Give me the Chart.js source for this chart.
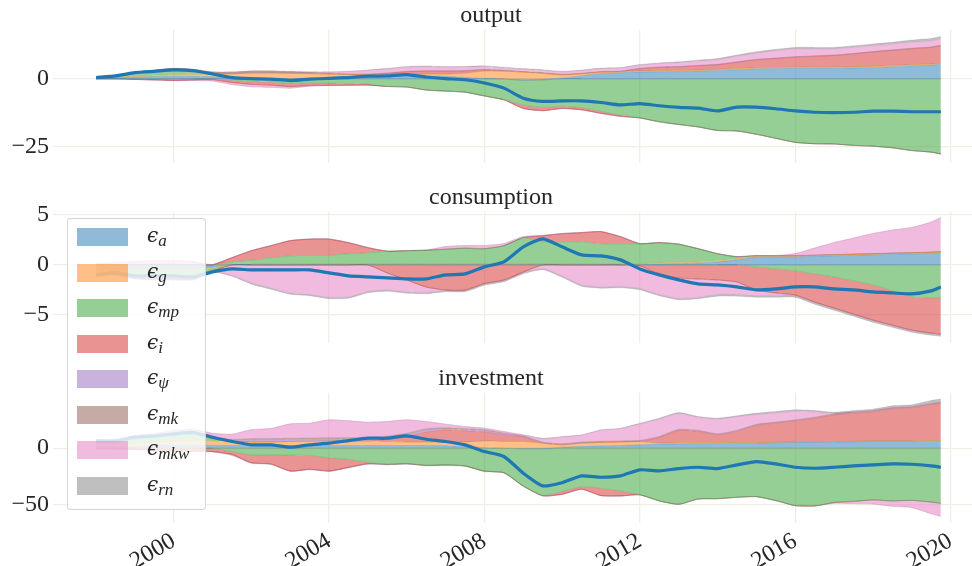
<!DOCTYPE html>
<html>
<head>
<meta charset="utf-8">
<script src="https://cdn.jsdelivr.net/npm/chart.js@4.4.1/dist/chart.umd.min.js"></script>
<style>
  html, body { margin: 0; padding: 0; background: #fff; overflow: hidden; width: 972px; height: 566px; }
  .panel { position: absolute; left: 0; width: 1035px; }
  .panel canvas { display: block; }
  #legend { position: absolute; left: 67px; top: 218px; width: 137px; height: 290px; background: rgba(255,255,255,0.8);
            border: 1px solid rgba(204,204,204,0.8); border-radius: 4px; z-index: 5; }
  .sw { position: absolute; width: 51px; height: 18px; z-index: 6; }
  .lab { position: absolute; z-index: 6; font-family: "DejaVu Serif", serif; font-style: italic; font-size: 20px;
         line-height: 18px; white-space: nowrap; color: #262626; }
  .lab sub { font-family: "Liberation Serif", serif; font-style: italic; font-size: 17px; vertical-align: -4px; line-height: 0; }
</style>
</head>
<body>
<div class="panel" style="top:-1px"><canvas id="c0" width="1035" height="168"></canvas></div>
<div class="panel" style="top:181px"><canvas id="c1" width="1035" height="166"></canvas></div>
<div class="panel" style="top:362px"><canvas id="c2" width="1035" height="204"></canvas></div>
<div id="legend"></div>

<script>
// half-yearly points, 1998 to end of 2019
const dates = [1998, 1998.5, 1999, 1999.5, 2000, 2000.5, 2001, 2001.5, 2002, 2002.5,
  2003, 2003.5, 2004, 2004.5, 2005, 2005.5, 2006, 2006.5, 2007, 2007.5,
  2008, 2008.5, 2009, 2009.5, 2010, 2010.5, 2011, 2011.5, 2012, 2012.5,
  2013, 2013.5, 2014, 2014.5, 2015, 2015.5, 2016, 2016.5, 2017, 2017.5,
  2018, 2018.5, 2019, 2019.5, 2019.75];
const yearTicks = [2000, 2004, 2008, 2012, 2016, 2020];
const shockLabels = ['a', 'g', 'mp', 'i', 'ψ', 'mk', 'mkw', 'rn'];
const shockColors = ['31,119,180', '255,127,14', '44,160,44', '214,39,40', '148,103,189', '140,86,75', '227,119,194', '127,127,127'];

// output
const outputTotal = [0.5, 1.1, 2.3, 2.8, 3.3, 3.0, 1.8, 0.5, 0.1, -0.1, -0.6, -0.1, 0.2, 0.5, 1.0, 1.1, 1.6, 0.7, 0.1, -0.3,
  -1.5, -3.4, -7.1, -8.3, -8.1, -8.1, -8.7, -9.6, -9.1, -9.9, -10.5, -10.8, -11.8, -10.4, -10.4, -11.0, -11.8, -12.3, -12.4, -12.3,
  -11.9, -11.9, -12.1, -12.1, -12.1];
const outputA = [0.2, 0.4, 0.7, 0.9, 1.0, 1.0, 0.8, 0.4, 0.2, 0.1, 0.1, 0.2, 0.4, 0.6, 0.8, 1.0, 1.2, 1.2, 1.0, 0.6,
  0.2, 0.0, -0.6, -0.4, 0.3, 1.2, 2.0, 2.3, 2.5, 2.6, 2.7, 2.9, 3.1, 3.4, 3.7, 3.8, 3.9, 3.9, 3.9, 4.0, 4.2, 4.5, 4.8, 5.1, 5.4];
const outputG = [0.1, 0.2, 0.3, 0.4, 0.5, 0.6, 0.9, 1.5, 2.0, 2.1, 2.0, 1.8, 1.4, 1.0, 0.8, 0.7, 0.6, 0.6, 0.8, 1.5,
  2.7, 2.8, 2.5, 2.1, 1.2, 0.7, 0.5, 0.4, 0.4, 0.4, 0.4, 0.4, 0.4, 0.4, 0.4, 0.4, 0.4, 0.4, 0.4, 0.4, 0.4, 0.4, 0.4, 0.4, 0.4];
const outputMp = [0.05, 0.35, 1.35, 1.75, 2.25, 1.7, 0.5, -0.5, -1.0, -1.1, -1.6, -1.4, -1.5, -1.65, -1.9, -2.8, -3.0, -4.1, -4.5, -4.9,
  -6.3, -7.7, -9.0, -10.1, -10.1, -10.6, -12.0, -13.3, -14.4, -15.8, -16.8, -17.7, -19.0, -19.2, -20.4, -21.9, -23.4, -23.9, -24.0, -24.5,
  -24.8, -25.4, -26.4, -27.0, -27.7];
const outputI = [0, 0, -0.2, -0.4, -0.6, -0.4, -0.3, -0.8, -1.0, -1.2, -1.2, -1.0, -0.9, -0.7, -0.4, 0.3, 0.8, 1.0, 1.0, 0.8,
  0.4, 0.2, -1.3, -1.2, -0.8, -0.8, -0.7, -0.5, 0.8, 1.2, 1.3, 1.5, 1.7, 2.3, 2.9, 3.3, 3.7, 4.0, 4.3, 4.8, 5.3, 5.6, 5.9, 6.1, 6.4];
const outputPsi = [0.05, 0.05, 0.05, 0.05, 0.05, 0.1, 0.1, 0.1, 0.1, 0.1, 0.1, 0.1, 0.1, 0.1, 0.1, 0.1, 0.1, 0.1, 0.1, 0.1,
  0.1, 0.1, 0.1, 0.1, 0.1, 0.1, 0.1, 0.1, 0.1, 0.1, 0.1, 0.1, 0.1, 0.1, 0.1, 0.1, 0.1, 0.1, 0.1, 0.1, 0.1, 0.1, 0.1, 0.1, 0.1];
const outputMk = [0.05, 0.05, 0.05, 0.05, 0.05, 0.1, 0.2, 0.4, 0.5, 0.5, 0.4, 0.3, 0.2, 0.15, 0.1, 0.1, 0.1, 0.1, 0.1, 0.1,
  0.1, 0.1, 0.1, 0.1, 0.1, 0.1, 0.1, 0.1, 0.1, 0.1, 0.1, 0.1, 0.1, 0.1, 0.1, 0.1, 0.1, 0.1, 0.1, 0.1, 0.1, 0.1, 0.1, 0.1, 0.1];
const outputMkw = [0, 0, 0, 0, 0, -0.2, -0.5, -0.8, -0.9, -0.8, -0.6, -0.3, 0.3, 0.8, 1.2, 1.4, 1.5, 1.5, 1.3, 1.2,
  1.0, 0.8, 0.8, 0.8, 0.8, 0.9, 1.0, 1.0, 1.1, 1.2, 1.3, 1.5, 1.6, 2.0, 2.2, 2.6, 2.8, 2.5, 2.2, 2.2, 2.1, 2.1, 2.2, 2.2, 2.2];
const outputRn = [0.05, 0.05, 0.05, 0.05, 0.05, 0.1, 0.1, 0.2, 0.2, 0.2, 0.2, 0.2, 0.2, 0.2, 0.3, 0.3, 0.3, 0.3, 0.3, 0.3,
  0.3, 0.3, 0.3, 0.3, 0.3, 0.3, 0.3, 0.3, 0.3, 0.3, 0.4, 0.4, 0.5, 0.5, 0.6, 0.6, 0.6, 0.6, 0.6, 0.6, 0.7, 0.7, 0.8, 0.9, 1.0];

// consumption
const consTotal = [-1.0, -0.8, -1.1, -1.1, -1.1, -1.2, -0.7, -0.4, -0.5, -0.5, -0.5, -0.5, -0.8, -1.1, -1.2, -1.3, -1.4, -1.4, -1.0, -0.9,
  -0.2, 0.3, 1.8, 2.6, 1.8, 1.0, 0.9, 0.5, -0.4, -1.0, -1.5, -1.9, -2.0, -2.2, -2.5, -2.4, -2.2, -2.2, -2.4, -2.5,
  -2.7, -2.8, -2.9, -2.6, -2.2];
const consA = [-0.4, -0.4, -0.4, -0.4, -0.4, -0.4, -0.2, 0.05, 0.05, 0.05, 0.05, 0.05, 0.05, 0.05, 0.05, 0.05, 0.05, 0.05, 0.05, 0.05,
  0.05, 0.05, 0.05, 0.05, 0.05, 0.05, 0.05, 0.05, 0.05, 0.1, 0.15, 0.2, 0.3, 0.5, 0.8, 0.8, 0.8, 0.85, 0.9, 0.95, 1.0, 1.05, 1.1, 1.15, 1.2];
const consG = [-0.1, -0.1, -0.1, -0.1, -0.1, -0.1, -0.1, 0.05, 0.05, 0.05, 0.05, 0.05, 0.05, 0.05, 0.05, 0.05, 0.05, 0.05, 0.05, 0.05,
  0.05, 0.05, 0.05, 0.05, 0.05, 0.05, 0.05, 0.05, 0.05, 0.1, 0.1, 0.1, 0.1, 0.1, 0.1, 0.1, 0.1, 0.1, 0.1, 0.1, 0.1, 0.1, 0.1, 0.1, 0.1];
const consMp = [-0.5, -0.4, -0.5, -0.6, -0.6, -0.5, -0.2, 0.2, 0.35, 0.6, 0.8, 0.85, 0.85, 1.0, 1.1, 1.25, 1.3, 1.35, 1.45, 1.55,
  1.5, 1.8, 2.6, 2.2, 2.2, 2.2, 2.0, 2.0, 2.0, 2.0, 1.8, 1.3, 0.7, 0.2, -0.2, -0.4, -0.6, -0.9, -1.2, -1.6, -2.0, -2.6, -3.2, -3.3, -3.3];
const consI = [0, 0, -0.3, -0.3, -0.3, -0.4, -0.1, 0.4, 0.95, 1.2, 1.5, 1.6, 1.6, 1.1, 0.5, -0.8, -1.5, -2.2, -2.5, -2.5,
  -1.85, -1.5, -0.7, 0.6, 0.8, 0.9, 1.2, 0.7, -0.1, -0.9, -1.3, -1.4, -1.5, -1.7, -2.3, -2.4, -2.4, -2.8, -3.1, -3.3, -3.5, -3.4, -3.3, -3.5, -3.6];
const consPsi = [0.03, 0.03, 0.03, 0.03, 0.03, 0.03, 0.03, 0.03, 0.03, 0.03, 0.03, 0.03, 0.03, 0.03, 0.03, 0.03, 0.03, 0.03, 0.03, 0.03,
  0.03, 0.03, 0.03, 0.03, 0.03, 0.03, 0.03, 0.03, 0.03, 0.03, 0.03, 0.03, 0.03, 0.03, 0.03, 0.03, 0.03, 0.03, 0.03, 0.03, 0.03, 0.03, 0.03, 0.03, 0.03];
const consMk = [-0.03, -0.03, -0.03, -0.03, -0.03, -0.03, -0.03, -0.03, -0.03, -0.03, -0.03, -0.03, -0.03, -0.03, -0.03, -0.03, -0.03, -0.03, -0.03, -0.03,
  -0.03, -0.03, -0.03, -0.03, -0.03, -0.03, -0.03, -0.03, -0.03, -0.03, -0.03, -0.03, -0.03, -0.03, -0.03, -0.03, -0.03, -0.03, -0.03, -0.03, -0.03, -0.03, -0.03, -0.03, -0.03];
const consMkw = [0.1, 0.2, 0.3, 0.4, 0.4, 0.3, 0.0, -1.0, -1.75, -2.25, -2.75, -2.9, -3.2, -3.15, -2.6, -1.65, -1.15, -0.5, 0.25, 0.25,
  0.3, 0.2, 0.1, -0.3, -1.05, -1.95, -2.15, -2.1, -2.2, -2.0, -2.0, -1.8, -1.4, -1.2, -0.5, -0.2, 0.2, 0.7, 1.2, 1.6, 2.0, 2.3, 2.5, 3.0, 3.4];
const consRn = [-0.1, -0.1, -0.1, -0.1, -0.1, -0.1, -0.1, -0.1, -0.15, -0.15, -0.15, -0.15, -0.15, -0.15, -0.15, -0.15, -0.15, -0.15, -0.15, -0.15,
  -0.15, -0.15, -0.15, -0.15, -0.15, -0.15, -0.15, -0.15, -0.15, -0.15, -0.15, -0.15, -0.2, -0.2, -0.2, -0.2, -0.2, -0.2, -0.2, -0.2, -0.2, -0.2, -0.2, -0.2, -0.2];

// investment
const invTotal = [6.5, 6.5, 9.8, 11.0, 12.8, 14.0, 9.8, 6.0, 3.0, 3.0, 0.9, 3.0, 4.5, 6.8, 8.9, 8.9, 11.0, 8.0, 6.0, 3.0,
  -3.0, -7.4, -22.3, -33.6, -30.7, -24.7, -25.9, -24.7, -19.3, -20.2, -18.2, -17.0, -18.2, -14.9, -11.9, -14.0, -17.0, -17.9, -17.0, -15.8,
  -14.9, -14.0, -14.3, -15.8, -17.0];
const invA = [1.0, 1.2, 1.8, 2.5, 3.0, 3.0, 2.5, 2.5, 2.5, 2.4, 2.4, 2.4, 2.4, 2.4, 2.4, 2.4, 2.4, 2.4, 2.2, 1.5,
  0.5, 0.0, -0.5, -0.5, 0.9, 1.5, 2.1, 2.5, 3.0, 3.5, 3.9, 4.2, 4.5, 4.5, 4.5, 4.8, 5.1, 5.2, 5.4, 5.7, 6.0, 6.0, 6.0, 6.3, 6.5];
const invG = [1.5, 1.5, 2.0, 2.5, 3.0, 3.5, 4.0, 3.5, 3.0, 3.2, 3.6, 3.8, 4.0, 4.0, 4.0, 3.5, 3.0, 3.0, 3.5, 4.0,
  6.0, 6.0, 6.0, 4.5, 2.1, 3.0, 3.0, 3.0, 3.0, 1.0, 1.0, 0.8, 0.7, 0.5, 0.5, 0.5, 0.5, 0.5, 0.5, 0.5, 0.5, 0.5, 0.5, 0.5, 0.5];
const invMp = [2.5, 3.0, 4.5, 5.0, 5.9, 6.0, 2.0, -3.0, -6.0, -6.0, -6.0, -6.5, -8.5, -10.0, -12.5, -14.4, -13.8, -15.3, -14.9, -15.8,
  -20.4, -21.8, -33.2, -41.5, -38.7, -34.2, -35.7, -38.0, -41.6, -47.0, -50.0, -45.3, -45.0, -43.8, -43.2, -46.7, -51.2, -51.5, -48.4, -47.4,
  -46.1, -47.0, -46.5, -48.0, -49.1];
const invI = [0, -0.5, -1.0, -1.5, -2.5, -2.5, -3.0, -2.5, -7.0, -8.1, -14.3, -12.3, -11.8, -7.1, -1.3, 2.0, 5.0, 9.0, 10.5, 10.0,
  8.0, 6.0, 4.0, -0.5, -2.4, -2.4, -6.6, -4.6, 0, 5.0, 10.9, 10.0, 6.7, 10.0, 15.3, 17.0, 18.7, 21.0, 23.7, 25.0, 26.0, 28.5, 29.4, 32.0, 33.0];
const invPsi = [0.5, 0.5, 0.5, 0.5, 0.5, 0.5, 0.5, 1.0, 1.5, 1.5, 1.5, 1.5, 1.5, 1.5, 1.5, 1.5, 1.5, 1.5, 1.0, 1.0,
  1.0, 0.8, 0.5, 0.5, 0.5, 0.5, 0.5, 0.5, 0.5, 0.5, 0.5, 0.5, 0.5, 0.5, 0.5, 0.5, 0.5, 0.5, 0.5, 0.5, 0.5, 0.5, 0.5, 0.5, 0.5];
const invMk = [0.5, 0.5, 0.5, 0.5, 0.5, 0.5, 1.0, 1.0, 1.5, 1.5, 1.4, 1.4, 1.4, 1.5, 1.5, 1.5, 1.5, 1.5, 1.0, 1.0,
  1.0, 0.8, 0.5, 0.5, 0.5, 0.5, 0.5, 0.5, 0.5, 0.5, 0.5, 0.5, 0.5, 0.5, 0.5, 0.5, 0.5, 0.5, 0.5, 0.5, 0.5, 0.5, 0.5, 0.5, 0.5];
const invMkw = [1.5, 1.3, 2.0, 2.0, 2.9, 3.5, 3.3, 4.5, 8.0, 9.0, 12.8, 13.2, 16.0, 15.0, 13.8, 12.9, 11.9, 6.4, 3.2, 1.8,
  1.4, 1.3, 0.9, 2.5, 5.9, 5.9, 9.8, 10.9, 14.3, 15.3, 14.0, 11.3, 12.9, 11.9, 8.5, 7.9, 7.4, 4.4, -0.7, -2.0, -3.6, -4.8, -6.5, -10.4, -11.7];
const invRn = [-1.0, -1.0, -0.5, -0.5, -0.5, -0.5, -0.5, -1.0, -0.5, -0.5, -0.5, -0.5, -0.5, -0.5, -0.5, -0.5, -0.5, -0.5, -0.5, -0.5,
  -0.5, -0.5, -0.5, 0.9, 0.5, 0.5, 0.5, 0.5, 1.0, 1.0, 1.0, 1.0, 1.0, 1.0, 1.5, 1.5, 1.5, 1.5, 1.5, 1.4, 1.3, 1.8, 1.8, 2.8, 2.8];

const gridColor = '#f1eee5';
const textColor = '#262626';
const serif = '"Liberation Serif", "Times New Roman", serif';

const panels = [
  { id: 'c0', title: 'output', total: outputTotal,
    parts: [outputA, outputG, outputMp, outputI, outputPsi, outputMk, outputMkw, outputRn],
    yMin: -31.0, yMax: 18.1, yTicks: [-25, 0], showX: false, xHeight: 0, padBottom: 4 },
  { id: 'c1', title: 'consumption', total: consTotal,
    parts: [consA, consG, consMp, consI, consPsi, consMk, consMkw, consRn],
    yMin: -7.8, yMax: 5.3, yTicks: [-5, 0, 5], showX: false, xHeight: 0, padBottom: 4 },
  { id: 'c2', title: 'investment', total: invTotal,
    parts: [invA, invG, invMp, invI, invPsi, invMk, invMkw, invRn],
    yMin: -66.7, yMax: 49.4, yTicks: [-50, 0], showX: true, xHeight: 43, padBottom: 0 }
];

// positive and negative contributions are stacked separately, like the original
function buildDatasets(parts, total) {
  const sets = [];
  ['pos', 'neg'].forEach(side => {
    parts.forEach((vals, k) => {
      sets.push({
        data: vals.map((v, j) => ({ x: dates[j], y: side === 'pos' ? Math.max(v, 0) : Math.min(v, 0) })),
        stack: side,
        fill: k === 0 ? 'origin' : '-1',
        backgroundColor: `rgba(${shockColors[k]},0.5)`,
        borderColor: `rgba(${shockColors[k]},0.22)`,
        borderWidth: 1,
        pointRadius: 0,
        tension: 0.2,
        order: 1
      });
    });
  });
  sets.push({
    data: total.map((v, j) => ({ x: dates[j], y: v })),
    stack: 'total',
    fill: false,
    borderColor: '#1f77b4',
    borderWidth: 3.2,
    pointRadius: 0,
    tension: 0.2,
    order: 0
  });
  return sets;
}

const fmt = v => (v < 0 ? '\u2212' + Math.abs(v) : String(v));

panels.forEach(p => {
  new Chart(document.getElementById(p.id), {
    type: 'line',
    data: { datasets: buildDatasets(p.parts, p.total) },
    options: {
      responsive: false,
      animation: false,
      devicePixelRatio: 1,
      layout: { padding: { left: 0, right: 53, top: 0, bottom: p.padBottom } },
      plugins: {
        legend: { display: false },
        tooltip: { enabled: false },
        title: {
          display: true, text: p.title, color: textColor,
          font: { family: serif, size: 24, weight: 'normal', lineHeight: 1.2 },
          padding: { top: 2, bottom: 0 }
        }
      },
      scales: {
        x: {
          type: 'linear', min: 1996.89, max: 2020.81,
          afterBuildTicks: s => { s.ticks = yearTicks.map(v => ({ value: v })); },
          afterFit: s => { s.height = p.xHeight; s.paddingLeft = 0; s.paddingRight = 0; },
          grid: { color: gridColor, lineWidth: 1.3, drawTicks: false },
          border: { display: false },
          ticks: {
            display: p.showX, autoSkip: false, minRotation: 30, maxRotation: 30, padding: 4,
            color: textColor, font: { family: serif, size: 24 },
            callback: v => String(v)
          }
        },
        y: {
          stacked: true, min: p.yMin, max: p.yMax,
          afterBuildTicks: s => { s.ticks = p.yTicks.map(v => ({ value: v })); },
          afterFit: s => { s.width = 53; s.paddingTop = 0; s.paddingBottom = 0; },
          grid: { color: gridColor, lineWidth: 1.3, drawTicks: false },
          border: { display: false },
          ticks: { padding: 4, color: textColor, font: { family: serif, size: 24 }, callback: fmt }
        }
      }
    }
  });
});

// legend overlay (semi-transparent frame, drawn above the axes)
shockLabels.forEach((lab, k) => {
  const top = 228 + k * 35.57;
  const sw = document.createElement('div');
  sw.className = 'sw';
  sw.style.left = '77px';
  sw.style.top = top + 'px';
  sw.style.background = `rgba(${shockColors[k]},0.5)`;
  document.body.appendChild(sw);
  const tx = document.createElement('div');
  tx.className = 'lab';
  tx.style.left = '147px';
  tx.style.top = (top - 2) + 'px';
  tx.innerHTML = '\u03f5<sub>' + lab + '</sub>';
  document.body.appendChild(tx);
});
</script>
</body>
</html>
